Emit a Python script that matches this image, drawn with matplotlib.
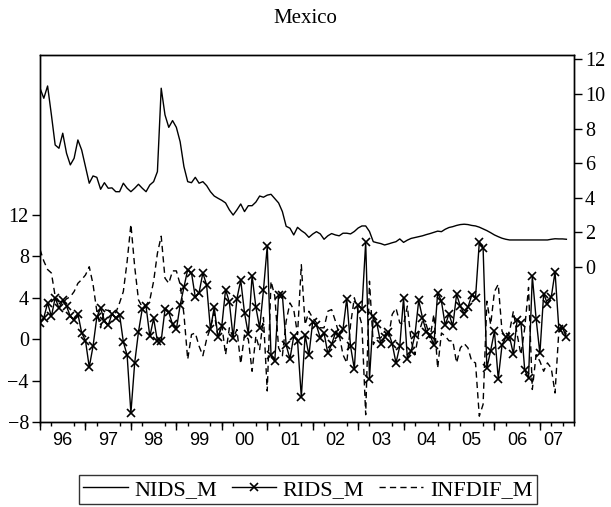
import matplotlib
matplotlib.use("Agg")
import matplotlib.pyplot as plt
from matplotlib.lines import Line2D
import numpy as np
import pandas as pd

# monthly observations, 1996M01 - 2007M08
months = pd.period_range("1996-01", "2007-08", freq="M")

nids_m = [
    10.33, 9.75, 10.46, 8.8, 7.05, 6.86, 7.73, 6.57, 5.9, 6.28, 7.34, 6.76,
    5.8, 4.84, 5.26, 5.18, 4.49, 4.87, 4.55, 4.57, 4.35, 4.35, 4.84, 4.55,
    4.35, 4.55, 4.78, 4.55, 4.35, 4.74, 4.93, 5.51, 10.33, 8.79, 8.07, 8.46,
    8.07, 7.24, 5.8, 4.93, 4.87, 5.18, 4.84, 4.93, 4.7, 4.35, 4.1, 3.97,
    3.85, 3.7, 3.3, 3.0, 3.3, 3.64, 3.2, 3.54, 3.54, 3.75, 4.1, 4.03,
    4.15, 4.2, 3.95, 3.7, 3.2, 2.35, 2.24, 1.85, 2.29, 2.1, 1.95, 1.71,
    1.9, 2.04, 1.91, 1.6, 1.8, 1.93, 1.85, 1.8, 1.95, 1.95, 1.91, 2.05,
    2.25, 2.37, 2.37, 2.05, 1.46, 1.4, 1.35, 1.27, 1.33, 1.4, 1.46, 1.62,
    1.42, 1.55, 1.65, 1.7, 1.75, 1.8, 1.87, 1.93, 2.0, 2.07, 2.04, 2.18,
    2.28, 2.33, 2.4, 2.45, 2.47, 2.45, 2.4, 2.37, 2.3, 2.2, 2.1, 1.98,
    1.85, 1.75, 1.66, 1.6, 1.56, 1.56, 1.56, 1.56, 1.56, 1.56, 1.56, 1.56,
    1.56, 1.56, 1.56, 1.6, 1.63, 1.62, 1.62, 1.6,
]

rids_m = [
    1.58, 2.06, 3.5, 2.2, 4.0, 3.0, 3.74, 3.2, 2.2, 1.9, 2.45, 0.61,
    -0.13, -2.7, -0.68, 2.13, 3.0, 1.8, 1.35, 2.45, 2.06, 2.38, -0.26, -1.55,
    -7.12, -2.29, 0.71, 2.93, 3.16, 0.26, 2.0, -0.19, -0.13, 2.87, 2.6, 1.42,
    0.94, 3.29, 5.02, 6.73, 6.41, 4.06, 4.48, 6.41, 5.22, 0.94, 3.09, 0.19,
    1.26, 4.8, 3.57, 0.13, 3.93, 5.7, 2.54, 0.51, 6.15, 3.09, 1.09, 4.73,
    8.99, -1.55, -2.13, 4.25, 4.25, -0.58, -1.9, 0.29, -0.13, -5.6, 0.39, -1.55,
    1.67, 1.35, 0.13, 0.61, -1.38, -0.51, 0.61, 0.45, 0.94, 3.93, -0.68, -2.87,
    3.29, 2.93, 9.37, -3.8, 2.22, 1.42, -0.45, 0.19, 0.71, -0.45, -2.29, -0.68,
    4.0, -1.87, -1.16, 0.39, 3.74, 2.06, 0.71, 0.45, -0.61, 4.48, 3.67, 1.35,
    2.45, 1.26, 4.32, 3.19, 2.45, 3.09, 4.25, 4.0, 9.37, 8.82, -2.77, -1.1,
    0.77, -3.83, -0.58, 0.19, 0.19, -1.42, 1.9, 1.58, -3.0, -3.74, 6.09, 1.97,
    -1.38, 4.41, 3.41, 4.06, 6.5, 1.03, 1.09, 0.19,
]

infdif_m = [
    8.67, 7.55, 6.73, 6.4, 4.15, 3.7, 3.5, 3.9, 4.1, 4.6, 5.4, 5.76,
    6.2, 7.0, 5.3, 2.7, 1.1, 2.86, 2.77, 2.7, 2.55, 3.5, 4.6, 7.5,
    11.1, 7.0, 3.8, 3.1, 3.3, 3.8, 5.6, 8.3, 9.95, 5.9, 5.4, 6.6,
    6.6, 5.3, 2.4, -1.95, 0.45, 0.6, -0.67, -1.6, 0.0, 1.1, 2.55, 0.13,
    1.4, -1.5, 1.1, 0.13, 0.93, -2.38, 0.45, 0.0, -3.1, 0.3, -1.0, 2.1,
    -5.0, 5.6, 4.15, -0.84, -1.6, 1.75, 3.5, 2.86, 0.45, 7.2, 1.4, 2.7,
    2.06, 1.58, 1.1, 1.1, 2.7, 2.86, 1.75, 0.45, -1.5, -2.29, 1.4, 4.0,
    2.7, 1.4, -7.3, 5.6, -0.52, 0.13, 0.13, 0.77, 0.13, 2.4, 3.0, 1.58,
    1.4, 3.2, -0.16, -1.5, 0.6, 1.75, 1.4, 0.13, 2.4, -2.8, 0.6, 0.3,
    -0.16, -0.16, -2.29, -0.84, -0.42, -0.84, -2.13, -2.29, -7.44, -6.3, 3.67, 1.4,
    4.6, 5.3, 0.77, 0.13, 0.77, 2.7, 0.45, -1.5, 1.1, 5.0, -4.86, -1.5,
    -2.13, -3.1, -2.29, -2.8, -5.2, 0.77, 1.1, 0.45,
]

year_labels = ["96", "97", "98", "99", "00", "01", "02", "03", "04", "05", "06", "07"]

x = np.array([p.year + (p.month - 1) / 12 for p in months])
serif = "Liberation Serif"
sans = "Liberation Sans"
dash = (4.5, 3.0)

fig = plt.figure(figsize=(6.11, 5.07), dpi=100)
ax = fig.add_axes([0.0655, 0.1677, 0.8739, 0.7238])
ax2 = ax.twinx()

lw = 1.0
ax.plot(x, rids_m, color="black", lw=lw, marker="x", ms=5.5, mew=1.2)
ax.plot(x, infdif_m, color="black", lw=lw, dashes=dash)
ax2.plot(x, nids_m, color="black", lw=lw)

ax.set_xlim(x[0], x[-1])
ax.set_ylim(-8, 27.46)
ax.set_yticks(np.arange(-8, 13, 4))
ax2.set_ylim(-8.96, 12.25)
ax2.set_yticks(np.arange(0, 13, 2))

for a in (ax, ax2):
    for s in a.spines.values():
        s.set_linewidth(1.0)
ax.tick_params(axis="y", direction="out", length=6, width=1, labelsize=14.5, pad=2)
ax2.tick_params(axis="y", direction="out", length=6, width=1, labelsize=14.5, pad=2)
for lab in ax.get_yticklabels() + ax2.get_yticklabels():
    lab.set_fontfamily(serif)

# year ticks (long), quarter ticks (short), labels in middle of each year
first, last = int(x[0]), int(x[-1])
ax.set_xticks(np.arange(first, last + 1, 0.25), minor=True)
mids = [y + 0.5 for y in range(first, last)] + [(last + x[-1]) / 2]
ax.set_xticks(mids, labels=year_labels)
ax.tick_params(axis="x", which="major", length=0, labelsize=13, pad=7)
ax.tick_params(axis="x", which="minor", direction="out", length=3, width=1)
for lab in ax.get_xticklabels():
    lab.set_fontfamily(sans)
sec = ax.secondary_xaxis("bottom")
sec.set_xticks(np.arange(first, last + 1, 1.0), labels=[])
sec.tick_params(axis="x", direction="out", length=6, width=1)
sec.spines["bottom"].set_visible(False)

fig.text(0.5, 0.963, "Mexico", ha="center", va="center", fontsize=15, family=serif)

handles = [
    Line2D([], [], color="black", lw=lw),
    Line2D([], [], color="black", lw=lw, marker="x", ms=5.5, mew=1.2, markevery=[1]),
    Line2D([], [], color="black", lw=lw, dashes=dash),
]
leg = fig.legend(handles, ["NIDS_M", "RIDS_M", "INFDIF_M"], loc="center",
                 bbox_to_anchor=(0.504, 0.0345), ncol=3, frameon=True,
                 fancybox=False, edgecolor="black", handlelength=2.0,
                 handletextpad=0.3, columnspacing=0.65, borderpad=0.2,
                 borderaxespad=0, prop={"family": serif, "size": 16})
leg.get_frame().set_linewidth(1.0)

fig.savefig("out.png", dpi=100)
